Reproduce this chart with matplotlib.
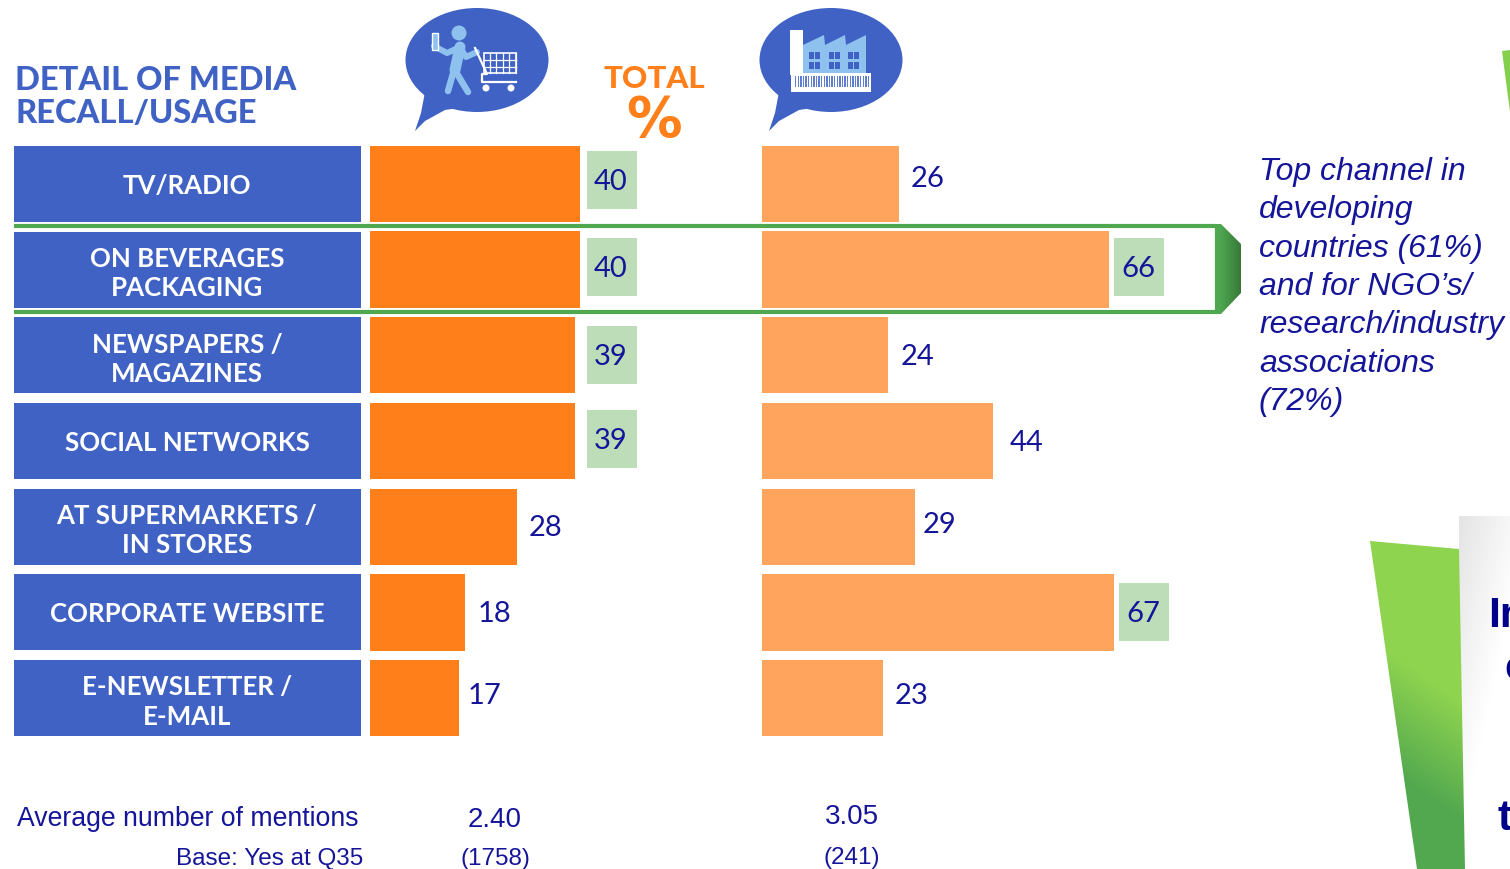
import matplotlib
matplotlib.use('Agg')
import matplotlib.pyplot as plt
import numpy as np
from matplotlib.patches import Ellipse, Polygon, Rectangle, Circle

W, H = 1510, 869

categories = ['TV/RADIO', 'ON BEVERAGES\nPACKAGING', 'NEWSPAPERS /\nMAGAZINES', 'SOCIAL NETWORKS',
              'AT SUPERMARKETS /\nIN STORES', 'CORPORATE WEBSITE', 'E-NEWSLETTER /\nE-MAIL']
consumers = [40, 40, 39, 39, 28, 18, 17]
companies = [26, 66, 24, 44, 29, 67, 23]
boxed_left = [0, 1, 2, 3]
boxed_right = [1, 5]
mentions = ['2.40', '3.05']
bases = ['(1758)', '(241)']
note = "Top channel in\ndeveloping\ncountries (61%)\nand for NGO\u2019s/\nresearch/industry\nassociations\n(72%)"

BLUE = '#3F62C4'
ORANGE = '#FF7F1A'
LIGHT_ORANGE = '#FFA45C'
BOX_GREEN = '#BCDDB8'
FRAME_GREEN = '#4FA850'
NAVY = '#15159A'
ICON_BLUE = '#8FC1EE'
GEO = ['Lato', 'DejaVu Sans']
ARIAL = ['Liberation Sans', 'DejaVu Sans']

fig = plt.figure(figsize=(W / 100, H / 100), dpi=100, facecolor='white')

# overlay in pixel coords for all the decoration
bg = fig.add_axes([0, 0, 1, 1])
bg.set_xlim(0, W)
bg.set_ylim(H, 0)
bg.axis('off')


def gradient(ax, arr, extent, cmap_from, cmap_to, clip=None, zorder=1):
    c0 = np.array(matplotlib.colors.to_rgb(cmap_from))
    c1 = np.array(matplotlib.colors.to_rgb(cmap_to))
    img = c0 + (c1 - c0) * arr[..., None]
    im = ax.imshow(img, extent=extent, aspect='auto', zorder=zorder, interpolation='bilinear')
    if clip is not None:
        im.set_clip_path(clip)
    ax.set_xlim(0, W)
    ax.set_ylim(H, 0)


# right hand panel, gets cut by the image edge
xx, yy = np.meshgrid(np.linspace(0, 1, 60), np.linspace(0, 1, 200))
gradient(bg, np.clip(xx * 0.7 + yy * 1.1, 0, 1), (1459, W, H, 516), '#E4E4E4', '#FFFFFF')
green_poly = Polygon([(1370, 541), (1459, 549), (1465, H), (1417, H)], closed=True, fc='none', ec='none', transform=bg.transData)
bg.add_patch(green_poly)
gradient(bg, np.clip((yy - xx * 0.2 - 0.3) / 0.36, 0, 1), (1370, 1465, H, 541), '#8FD44F', '#52A84F', clip=green_poly, zorder=2)

sliver = Polygon([(1502, 51), (1510, 50), (1510, 112)], closed=True, fc='#84CF4C', ec='none', zorder=2)
bg.add_patch(sliver)

bg.text(1488, 616, 'In', family=ARIAL, fontsize=31, fontweight='bold', color='#00008B', va='center', ha='left', zorder=3)
bg.text(1504, 669, 'c', family=ARIAL, fontsize=31, fontweight='bold', color='#00008B', va='center', ha='left', zorder=3)
bg.text(1498, 819, 't', family=ARIAL, fontsize=31, fontweight='bold', color='#00008B', va='center', ha='left', zorder=3)

# highlight frame round the packaging row
xx1 = np.linspace(0, 1, 60)[None, :]
arrow = Polygon([(1217, 224), (1221, 224), (1241, 244), (1241, 293), (1221, 314), (1217, 314)], closed=True, fc='none', ec='none', transform=bg.transData)
bg.add_patch(arrow)
gradient(bg, xx1, (1217, 1241, 314, 224), '#52AE54', '#38793A', clip=arrow, zorder=2)
bg.plot([14, 1217], [226, 226], color=FRAME_GREEN, lw=3, solid_capstyle='butt', zorder=2)
bg.plot([14, 1217], [312, 312], color=FRAME_GREEN, lw=3, solid_capstyle='butt', zorder=2)
bg.plot([1217, 1217], [224, 314], color=FRAME_GREEN, lw=3, solid_capstyle='butt', zorder=2)

# titles
bg.text(15, 97, 'DETAIL OF MEDIA\nRECALL/USAGE', family=GEO, fontsize=23.5, fontweight='black', color=BLUE,
        va='center', ha='left', linespacing=1.18, zorder=3)
bg.text(654, 79, 'TOTAL', family=GEO, fontsize=22.5, fontweight='black', color=ORANGE, va='center', ha='center')
bg.text(654, 121, '%', family=['DejaVu Sans'], fontsize=40, fontweight='bold', color=ORANGE, va='center', ha='center')


def bubble(ax, cx, dx_tail):
    ax.add_patch(Ellipse((cx, 60), 143, 104, fc=BLUE, ec='none', zorder=2))
    tail = [(425, 92), (421, 113), (415, 131), (425, 121), (445, 110), (458, 108)]
    ax.add_patch(Polygon([(x + dx_tail, y) for x, y in tail], closed=True, fc=BLUE, ec='none', zorder=2))


bubble(bg, 477, 0)
bubble(bg, 831, 354)

# shopper icon
bg.add_patch(Circle((459, 33), 7.5, fc=ICON_BLUE, ec='none', zorder=3))
for seg, lw in [([(460, 47), (455, 70)], 11), ([(454, 70), (448, 91)], 6.5), ([(456, 72), (468, 92)], 6.5),
                ([(460, 47), (447, 53), (434, 46)], 6), ([(460, 47), (466, 57), (477, 52)], 6)]:
    pts = np.array(seg)
    bg.plot(pts[:, 0], pts[:, 1], color=ICON_BLUE, lw=lw * 0.72, solid_capstyle='round', solid_joinstyle='round', zorder=3)
bg.add_patch(Rectangle((432, 33), 6, 17, fc=ICON_BLUE, ec='white', lw=1, zorder=4))
bg.plot([475, 487, 482, 482, 516], [48, 74, 74, 82, 82], color='white', lw=1.6, zorder=4)
bg.add_patch(Rectangle((484, 53), 32, 20, fc='none', ec='white', lw=1.2, zorder=4))
for gx in np.arange(490, 516, 6.4):
    bg.plot([gx, gx], [53, 73], color='white', lw=0.9, zorder=4)
for gy in [60, 66.5]:
    bg.plot([484, 516], [gy, gy], color='white', lw=0.9, zorder=4)
bg.add_patch(Circle((486, 88), 3.5, fc='white', ec='none', zorder=4))
bg.add_patch(Circle((511, 88), 3.5, fc='white', ec='none', zorder=4))

# factory icon
bg.add_patch(Rectangle((790, 30), 13, 45, fc='white', ec='none', zorder=3))
bg.add_patch(Polygon([(803, 45), (824, 35), (825, 45), (845, 35), (846, 45), (866, 35), (866, 75), (803, 75)],
                     closed=True, fc=ICON_BLUE, ec='none', zorder=3))
for wx in [814, 834, 853]:
    for wy in [55, 65]:
        for dx in [-5.5, 0.5]:
            bg.add_patch(Rectangle((wx + dx, wy - 3.5), 5, 7.5, fc=BLUE, ec='none', zorder=4))
bg.add_patch(Rectangle((791, 73), 80, 19, fc='white', ec='none', zorder=4))
for bx in np.arange(795, 869, 2.6):
    bg.add_patch(Rectangle((bx, 76), 1.4, 11, fc='#5F7ED0', ec='none', zorder=5))

# category boxes
row_top = 146
row_pitch = 85.67
row_h = 76
for i, name in enumerate(categories):
    top = row_top + i * row_pitch
    bg.add_patch(Rectangle((14, top), 347, row_h, fc=BLUE, ec='none', zorder=3))
    # two line labels sit a bit lower than the single ones
    shift = 4 if '\n' in name else 2
    bg.text(187, top + row_h / 2 + shift, name, family=GEO, fontsize=18.6, fontweight='bold', color='white',
            va='center', ha='center', linespacing=1.27, zorder=4)


# the two bar panels, 5.26 px for each percent
def bar_axes(x_left, x_right):
    ax = fig.add_axes([x_left / W, 1 - 736.0 / H, (x_right - x_left) / W, 590.0 / H])
    ax.set_xlim(0, (x_right - x_left) / 5.26)
    ax.set_ylim(6.44, -0.44)
    ax.axis('off')
    ax.patch.set_alpha(0)
    return ax


ax_l = bar_axes(370, 740)
ax_r = bar_axes(762, 1210)
ax_l.barh(range(7), consumers, height=0.887, color=ORANGE)
ax_r.barh(range(7), companies, height=0.887, color=LIGHT_ORANGE)

left_pos = [(611, 180), (611, 267), (611, 355), (611, 439), (546, 526), (494, 612), (484, 694)]
right_pos = [(928, 177), (1138, 267), (917, 355), (1027, 441), (940, 523), (1143, 612), (911, 694)]

for vals, pos, boxed in [(consumers, left_pos, boxed_left), (companies, right_pos, boxed_right)]:
    for i, v in enumerate(vals):
        if i in boxed:
            bg.add_patch(Rectangle((pos[i][0] - 24, pos[i][1] - 29), 50, 58, fc=BOX_GREEN, ec='none', zorder=3))
        bg.text(pos[i][0], pos[i][1] + 2, str(v), family=GEO, fontsize=21, color=NAVY, va='center', ha='center', zorder=6)

# note on the right
bg.text(1259, 287, note, family=ARIAL, fontsize=23, style='italic', color=NAVY, va='center', ha='left',
        linespacing=1.36, zorder=6)

# bottom rows
bg.text(17, 819, 'Average number of mentions', family=ARIAL, fontsize=19.2, color=NAVY, va='center', ha='left')
bg.text(363, 859, 'Base: Yes at Q35', family=ARIAL, fontsize=17.5, color=NAVY, va='center', ha='right')
bg.text(495, 820, mentions[0], family=ARIAL, fontsize=20, color=NAVY, va='center', ha='center')
bg.text(852, 817, mentions[1], family=ARIAL, fontsize=20, color=NAVY, va='center', ha='center')
bg.text(495, 859, bases[0], family=ARIAL, fontsize=17.5, color=NAVY, va='center', ha='center')
bg.text(852, 858, bases[1], family=ARIAL, fontsize=17.5, color=NAVY, va='center', ha='center')

fig.savefig('out.png', dpi=100, facecolor='white')
